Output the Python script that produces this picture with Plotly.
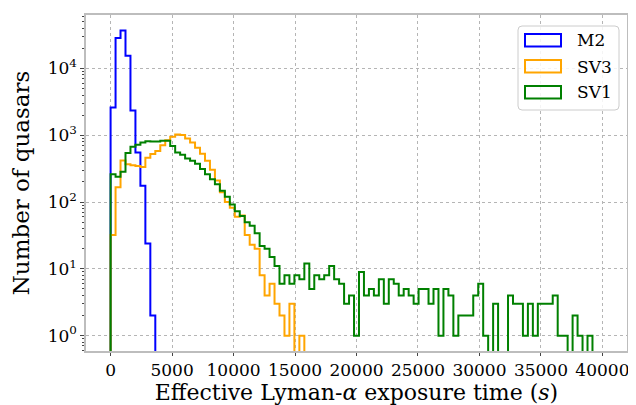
import numpy as np
import plotly.graph_objects as go

# ---------------- data ----------------
bin_edges = np.linspace(0, 40000, 100)          # histogram bin edges (s)
n_bins = len(bin_edges) - 1

m2_counts = [2600, 28600, 37000, 15500, 2350, 550, 175, 24, 2]

sv3_counts = [32, 167, 420, 367, 355, 345, 335, 462, 525, 580,
              708, 840, 950, 1030, 1010, 890, 780, 650, 530, 415,
              305, 210, 140, 100, 82, 60, 63, 32, 23, 20,
              8, 4, 6, 3, 2, 1, 3, 0, 1]

sv1_counts = [260, 240, 285, 540, 675, 720, 780, 815, 805, 805,
              830, 830, 690, 550, 510, 450, 415, 375, 312, 260,
              220, 185, 148, 120, 92, 73, 62, 50, 44, 34,
              22, 20, 15, 11, 6, 8, 6, 8, 7, 12,
              5, 8, 7, 8, 11, 7, 6, 3, 4, 1,
              9, 4, 5, 4, 7, 3, 7, 6, 4, 5,
              4, 3, 5, 5, 3, 5, 1, 5, 4, 1,
              2, 2, 2, 4, 6, 1, 0, 3, 0, 0,
              4, 3, 3, 1, 3, 1, 3, 3, 3, 4,
              1, 1, 0, 2, 1, 0, 1]

series_names = ["M2", "SV3", "SV1"]
series_counts = [m2_counts, sv3_counts, sv1_counts]
series_colors = ["#0000ff", "#ffa500", "#008000"]

x_ticks = [0, 5000, 10000, 15000, 20000, 25000, 30000, 35000, 40000]
y_ticks = [1, 10, 100, 1000, 10000]
y_ticktext = ["10<sup>0</sup>", "10<sup>1</sup>", "10<sup>2</sup>", "10<sup>3</sup>", "10<sup>4</sup>"]

# ---------------- helpers ----------------
FLOOR = 1e-3  # stands in for zero on the log axis (lies below the visible range)


def step_xy(counts):
    c = list(counts) + [0] * (n_bins - len(counts))
    c = [v if v > 0 else FLOOR for v in c]
    x = [bin_edges[0]] + list(bin_edges[:-1]) + [bin_edges[-1]]
    y = [FLOOR] + c + [FLOOR]
    return x, y


FONT = "DejaVu Serif"
# the page body has an 8 px margin, so the figure is drawn 8 px in from the top-left
OFF = 8
W, H = 636 - OFF, 405 - OFF
L, R, T, B = 86 - OFF, 9, 15 - OFF, 54
PW, PH = W - L - R, H - T - B


def px2x(px):  # page pixel -> paper fraction
    return (px - OFF - L) / PW


def py2y(py):
    return 1 - (py - OFF - T) / PH


fig = go.Figure()
for name, counts, color in zip(series_names, series_counts, series_colors):
    xs, ys = step_xy(counts)
    fig.add_trace(go.Scatter(x=xs, y=ys, mode="lines", name=name,
                             line=dict(color=color, width=2, shape="hv"),
                             showlegend=False))

fig.update_layout(
    width=W, height=H,
    margin=dict(l=L, r=R, t=T, b=B, autoexpand=False),
    paper_bgcolor="white", plot_bgcolor="white",
    font=dict(family=FONT, color="black", size=17),
    showlegend=False,
)

fig.update_xaxes(
    range=[-2000, 42000], tickvals=x_ticks, tickformat="d", automargin=False,
    tickangle=0,
    showgrid=True, gridcolor="#b5b5b5", griddash="dot", gridwidth=1,
    zeroline=False, ticks="outside", ticklen=3, tickcolor="#444",
    showline=True, mirror=True, linecolor="#bdbdbd", linewidth=1.5,
    tickfont=dict(family=FONT, size=17, color="black"),
    title=dict(text="Effective Lyman-<i>α</i> exposure time (<i>s</i>)",
               font=dict(family=FONT, size=22, color="black"), standoff=4),
)

fig.update_yaxes(
    type="log", range=[-0.23, 4.80], tickvals=y_ticks, ticktext=y_ticktext,
    automargin=False,
    showgrid=True, gridcolor="#b5b5b5", griddash="dot", gridwidth=1,
    zeroline=False, ticks="outside", ticklen=4, tickcolor="#444",
    showline=True, mirror=True, linecolor="#bdbdbd", linewidth=1.5,
    tickfont=dict(family=FONT, size=17, color="black"),
    minor=dict(ticks="outside", ticklen=2, tickcolor="#444",
               tickvals=[m * 10 ** e for e in range(-1, 5) for m in range(2, 10)],
               showgrid=False),
    title=dict(text="Number of quasars",
               font=dict(family=FONT, size=23, color="black"), standoff=14),
)

# ---------------- legend (drawn as in matplotlib: outlined patches) ----------------
shapes = []
bx0, bx1, by0, by1, rad = 518, 619, 26, 110, 4
x0, x1, y0, y1 = px2x(bx0), px2x(bx1), py2y(by0), py2y(by1)
rx, ry = rad / PW, rad / PH
path = (f"M{x0+rx},{y0} L{x1-rx},{y0} Q{x1},{y0} {x1},{y0-ry} "
        f"L{x1},{y1+ry} Q{x1},{y1} {x1-rx},{y1} L{x0+rx},{y1} "
        f"Q{x0},{y1} {x0},{y1+ry} L{x0},{y0-ry} Q{x0},{y0} {x0+rx},{y0} Z")
shapes.append(dict(type="path", path=path, xref="paper", yref="paper",
                   line=dict(color="#cccccc", width=1), fillcolor="rgba(255,255,255,0.85)",
                   layer="above"))
annotations = []
row_tops = [34, 60, 86]
for name, color, top in zip(series_names, series_colors, row_tops):
    shapes.append(dict(type="rect", xref="paper", yref="paper",
                       x0=px2x(525), x1=px2x(561), y0=py2y(top), y1=py2y(top + 12.5),
                       line=dict(color=color, width=2), fillcolor="rgba(0,0,0,0)",
                       layer="above"))
    annotations.append(dict(text=name, xref="paper", yref="paper",
                            x=px2x(575), y=py2y(top + 6.5), xanchor="left", yanchor="middle",
                            showarrow=False, font=dict(family=FONT, size=17, color="black")))

fig.update_layout(shapes=shapes, annotations=annotations)

fig.write_html("out.html")
